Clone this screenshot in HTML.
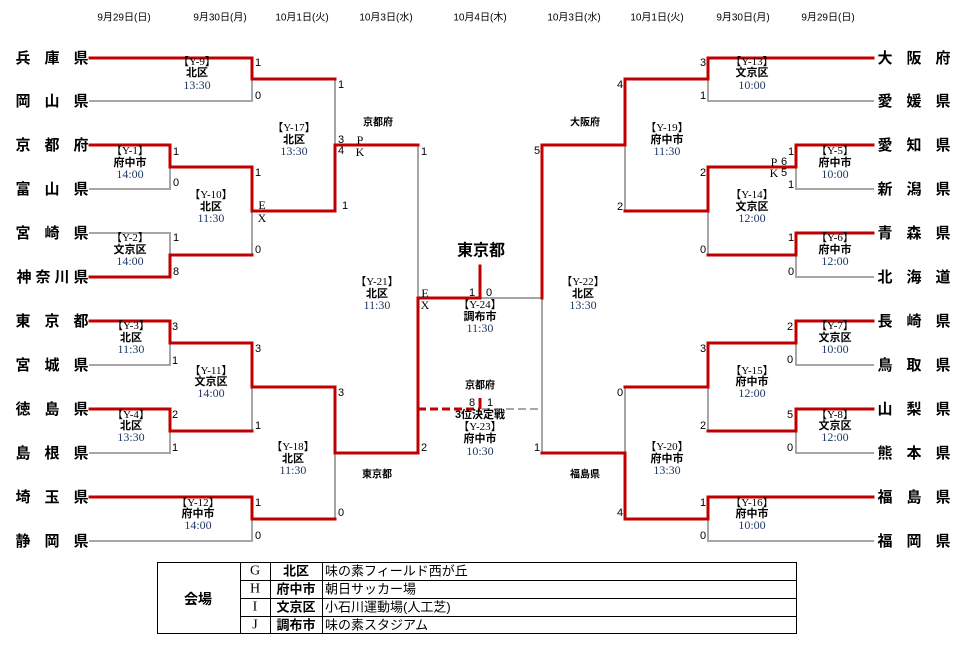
<!DOCTYPE html>
<html><head><meta charset="utf-8"><style>
html,body{margin:0;padding:0;background:#fff;}
svg{display:block;}
.d{font-family:"Liberation Sans","Noto Sans CJK JP",sans-serif;font-size:10px;fill:#000;}
.tm{font-family:"Liberation Sans","Noto Sans CJK JP",sans-serif;font-size:15px;font-weight:bold;fill:#000;}
.s{font-family:"Liberation Sans",sans-serif;font-size:11px;fill:#000;}
.ex{font-family:"Liberation Serif",serif;font-size:12px;fill:#000;}
.ml{font-family:"Liberation Serif","Noto Sans CJK JP",serif;font-size:11px;fill:#000;}
.mv{font-family:"Liberation Sans","Noto Sans CJK JP",sans-serif;font-size:11px;font-weight:bold;fill:#000;}
.mt{font-family:"Liberation Serif",serif;font-size:12px;fill:#1f3864;}
.lb{font-family:"Liberation Sans","Noto Sans CJK JP",sans-serif;font-size:10px;font-weight:bold;fill:#000;}
.tb{font-family:"Liberation Sans","Noto Sans CJK JP",sans-serif;font-size:13px;fill:#000;}
.tbs{font-family:"Liberation Serif",serif;font-size:14px;fill:#000;}
</style></head><body>
<svg width="966" height="645" viewBox="0 0 966 645" xmlns="http://www.w3.org/2000/svg">
<!-- dates -->
<g class="d" text-anchor="middle" dominant-baseline="central">
<text x="124" y="18">9月29日(日)</text>
<text x="220" y="18">9月30日(月)</text>
<text x="302" y="18">10月1日(火)</text>
<text x="386" y="18">10月3日(水)</text>
<text x="480" y="18">10月4日(木)</text>
<text x="574" y="18">10月3日(水)</text>
<text x="657" y="18">10月1日(火)</text>
<text x="743" y="18">9月30日(月)</text>
<text x="828" y="18">9月29日(日)</text>
</g>

<!-- gray lines -->
<g fill="none" stroke="#a6a6a6" stroke-width="2" stroke-linecap="square">
<path d="M90,101 H252 V79"/>
<path d="M90,189 H170 V167"/>
<path d="M90,233 H170 V255"/>
<path d="M252,211 V255"/>
<path d="M335,79 V145"/>
<path d="M418,145 V298"/>
<path d="M90,365 H170 V343"/>
<path d="M90,453 H170 V431"/>
<path d="M252,387 V431"/>
<path d="M90,541 H252 V519"/>
<path d="M335,453 V519"/>
<path d="M873,101 H708 V79"/>
<path d="M873,189 H796 V167"/>
<path d="M873,277 H796 V255"/>
<path d="M708,211 V255"/>
<path d="M625,145 V211"/>
<path d="M873,365 H796 V343"/>
<path d="M873,453 H796 V431"/>
<path d="M708,387 V431"/>
<path d="M625,387 V453"/>
<path d="M873,541 H708 V519"/>
<path d="M542,298 V453"/>
<path d="M480,298 H542"/>
</g>
<path d="M482,409 H542" fill="none" stroke="#a6a6a6" stroke-width="2" stroke-dasharray="8 4"/>
<path d="M418,409 H480" fill="none" stroke="#c00000" stroke-width="3" stroke-dasharray="8 4"/>
<path d="M480,398 V409" fill="none" stroke="#c00000" stroke-width="3"/>

<!-- red lines -->
<g fill="none" stroke="#c00000" stroke-width="3" stroke-linecap="square" stroke-linejoin="miter">
<path d="M90,58 H252 V79 H335"/>
<path d="M90,145 H170 V167 H252 V211 H335 V145 H418"/>
<path d="M90,277 H170 V255 H252"/>
<path d="M90,321 H170 V343 H252 V387 H335 V453 H418 V298 H480 V266"/>
<path d="M90,409 H170 V431 H252"/>
<path d="M90,497 H252 V519 H335"/>
<path d="M873,58 H708 V79 H625 V145 H542 V298"/>
<path d="M873,145 H796 V167 H708 V211 H625"/>
<path d="M873,233 H796 V255 H708"/>
<path d="M873,321 H796 V343 H708 V387 H625"/>
<path d="M873,409 H796 V431 H708"/>
<path d="M873,497 H708 V519 H625 V453 H542"/>
</g>

<!-- team names left -->
<g class="tm" text-anchor="middle" dominant-baseline="central">
<text y="58"><tspan x="23">兵</tspan><tspan x="52">庫</tspan><tspan x="81">県</tspan></text>
<text y="101"><tspan x="23">岡</tspan><tspan x="52">山</tspan><tspan x="81">県</tspan></text>
<text y="145"><tspan x="23">京</tspan><tspan x="52">都</tspan><tspan x="81">府</tspan></text>
<text y="189"><tspan x="23">富</tspan><tspan x="52">山</tspan><tspan x="81">県</tspan></text>
<text y="233"><tspan x="23">宮</tspan><tspan x="52">崎</tspan><tspan x="81">県</tspan></text>
<text y="277"><tspan x="24">神</tspan><tspan x="43">奈</tspan><tspan x="62">川</tspan><tspan x="81">県</tspan></text>
<text y="321"><tspan x="23">東</tspan><tspan x="52">京</tspan><tspan x="81">都</tspan></text>
<text y="365"><tspan x="23">宮</tspan><tspan x="52">城</tspan><tspan x="81">県</tspan></text>
<text y="409"><tspan x="23">徳</tspan><tspan x="52">島</tspan><tspan x="81">県</tspan></text>
<text y="453"><tspan x="23">島</tspan><tspan x="52">根</tspan><tspan x="81">県</tspan></text>
<text y="497"><tspan x="23">埼</tspan><tspan x="52">玉</tspan><tspan x="81">県</tspan></text>
<text y="541"><tspan x="23">静</tspan><tspan x="52">岡</tspan><tspan x="81">県</tspan></text>
<!-- right -->
<text y="58"><tspan x="885">大</tspan><tspan x="914">阪</tspan><tspan x="943">府</tspan></text>
<text y="101"><tspan x="885">愛</tspan><tspan x="914">媛</tspan><tspan x="943">県</tspan></text>
<text y="145"><tspan x="885">愛</tspan><tspan x="914">知</tspan><tspan x="943">県</tspan></text>
<text y="189"><tspan x="885">新</tspan><tspan x="914">潟</tspan><tspan x="943">県</tspan></text>
<text y="233"><tspan x="885">青</tspan><tspan x="914">森</tspan><tspan x="943">県</tspan></text>
<text y="277"><tspan x="885">北</tspan><tspan x="914">海</tspan><tspan x="943">道</tspan></text>
<text y="321"><tspan x="885">長</tspan><tspan x="914">崎</tspan><tspan x="943">県</tspan></text>
<text y="365"><tspan x="885">鳥</tspan><tspan x="914">取</tspan><tspan x="943">県</tspan></text>
<text y="409"><tspan x="885">山</tspan><tspan x="914">梨</tspan><tspan x="943">県</tspan></text>
<text y="453"><tspan x="885">熊</tspan><tspan x="914">本</tspan><tspan x="943">県</tspan></text>
<text y="497"><tspan x="885">福</tspan><tspan x="914">島</tspan><tspan x="943">県</tspan></text>
<text y="541"><tspan x="885">福</tspan><tspan x="914">岡</tspan><tspan x="943">県</tspan></text>
</g>

<!-- scores -->
<g class="s" text-anchor="middle" dominant-baseline="central">
<text x="258" y="63">1</text><text x="258" y="96">0</text>
<text x="341" y="85">1</text><text x="345" y="206">1</text>
<text x="341" y="140">3</text><text x="341" y="151">4</text>
<text x="176" y="152">1</text><text x="176" y="183">0</text>
<text x="176" y="238">1</text><text x="176" y="272">8</text>
<text x="258" y="173">1</text><text x="258" y="250">0</text>
<text x="175" y="327">3</text><text x="175" y="361">1</text>
<text x="175" y="415">2</text><text x="175" y="448">1</text>
<text x="258" y="349">3</text><text x="258" y="426">1</text>
<text x="258" y="503">1</text><text x="258" y="536">0</text>
<text x="341" y="393">3</text><text x="341" y="513">0</text>
<text x="424" y="152">1</text><text x="424" y="448">2</text>
<text x="472" y="293">1</text><text x="489" y="293">0</text>
<text x="472" y="403">8</text><text x="490" y="403">1</text>
<text x="703" y="63">3</text><text x="703" y="96">1</text>
<text x="620" y="85">4</text><text x="620" y="207">2</text>
<text x="537" y="151">5</text><text x="537" y="448">1</text>
<text x="703" y="173">2</text><text x="703" y="250">0</text>
<text x="791" y="152">1</text><text x="791" y="185">1</text>
<text x="784" y="162">6</text><text x="784" y="173">5</text>
<text x="791" y="238">1</text><text x="791" y="272">0</text>
<text x="790" y="327">2</text><text x="790" y="360">0</text>
<text x="790" y="415">5</text><text x="790" y="448">0</text>
<text x="703" y="349">3</text><text x="703" y="426">2</text>
<text x="620" y="393">0</text><text x="620" y="513">4</text>
<text x="703" y="503">1</text><text x="703" y="536">0</text>
</g>
<g class="ex" text-anchor="middle" dominant-baseline="central">
<text x="360" y="140">P</text><text x="360" y="152">K</text>
<text x="262" y="205">E</text><text x="262" y="218">X</text>
<text x="425" y="293">E</text><text x="425" y="305">X</text>
<text x="774" y="162">P</text><text x="774" y="173">K</text>
</g>

<!-- match labels -->
<g text-anchor="middle" dominant-baseline="central">
<!-- helper pattern: label, venue, time -->
<text class="ml" x="197" y="62">【Y-9】</text><text class="mv" x="197" y="73">北区</text><text class="mt" x="197" y="85">13:30</text>
<text class="ml" x="130" y="151">【Y-1】</text><text class="mv" x="130" y="163">府中市</text><text class="mt" x="130" y="174">14:00</text>
<text class="ml" x="130" y="238">【Y-2】</text><text class="mv" x="130" y="250">文京区</text><text class="mt" x="130" y="261">14:00</text>
<text class="ml" x="211" y="195">【Y-10】</text><text class="mv" x="211" y="207">北区</text><text class="mt" x="211" y="218">11:30</text>
<text class="ml" x="294" y="128">【Y-17】</text><text class="mv" x="294" y="140">北区</text><text class="mt" x="294" y="151">13:30</text>
<text class="ml" x="131" y="326">【Y-3】</text><text class="mv" x="131" y="338">北区</text><text class="mt" x="131" y="349">11:30</text>
<text class="ml" x="131" y="415">【Y-4】</text><text class="mv" x="131" y="426">北区</text><text class="mt" x="131" y="437">13:30</text>
<text class="ml" x="211" y="371">【Y-11】</text><text class="mv" x="211" y="382">文京区</text><text class="mt" x="211" y="393">14:00</text>
<text class="ml" x="293" y="447">【Y-18】</text><text class="mv" x="293" y="459">北区</text><text class="mt" x="293" y="470">11:30</text>
<text class="ml" x="198" y="503">【Y-12】</text><text class="mv" x="198" y="514">府中市</text><text class="mt" x="198" y="525">14:00</text>
<text class="ml" x="377" y="282">【Y-21】</text><text class="mv" x="377" y="294">北区</text><text class="mt" x="377" y="305">11:30</text>
<text class="ml" x="480" y="305">【Y-24】</text><text class="mv" x="480" y="317">調布市</text><text class="mt" x="480" y="328">11:30</text>
<text class="mv" x="480" y="415">3位決定戦</text><text class="ml" x="480" y="427">【Y-23】</text><text class="mv" x="480" y="439">府中市</text><text class="mt" x="480" y="451">10:30</text>
<text class="ml" x="583" y="282">【Y-22】</text><text class="mv" x="583" y="294">北区</text><text class="mt" x="583" y="305">13:30</text>
<text class="ml" x="752" y="62">【Y-13】</text><text class="mv" x="752" y="73">文京区</text><text class="mt" x="752" y="85">10:00</text>
<text class="ml" x="667" y="128">【Y-19】</text><text class="mv" x="667" y="140">府中市</text><text class="mt" x="667" y="151">11:30</text>
<text class="ml" x="752" y="195">【Y-14】</text><text class="mv" x="752" y="207">文京区</text><text class="mt" x="752" y="218">12:00</text>
<text class="ml" x="835" y="151">【Y-5】</text><text class="mv" x="835" y="163">府中市</text><text class="mt" x="835" y="174">10:00</text>
<text class="ml" x="835" y="238">【Y-6】</text><text class="mv" x="835" y="250">府中市</text><text class="mt" x="835" y="261">12:00</text>
<text class="ml" x="835" y="326">【Y-7】</text><text class="mv" x="835" y="338">文京区</text><text class="mt" x="835" y="349">10:00</text>
<text class="ml" x="835" y="415">【Y-8】</text><text class="mv" x="835" y="426">文京区</text><text class="mt" x="835" y="437">12:00</text>
<text class="ml" x="752" y="371">【Y-15】</text><text class="mv" x="752" y="382">府中市</text><text class="mt" x="752" y="393">12:00</text>
<text class="ml" x="667" y="447">【Y-20】</text><text class="mv" x="667" y="459">府中市</text><text class="mt" x="667" y="470">13:30</text>
<text class="ml" x="752" y="503">【Y-16】</text><text class="mv" x="752" y="514">府中市</text><text class="mt" x="752" y="525">10:00</text>
</g>

<!-- side labels -->
<g class="lb" text-anchor="middle" dominant-baseline="central">
<text x="378" y="123">京都府</text>
<text x="377" y="475">東京都</text>
<text x="585" y="123">大阪府</text>
<text x="585" y="475">福島県</text>
<text x="480" y="386">京都府</text>
</g>
<text x="481" y="251" text-anchor="middle" dominant-baseline="central" font-family="Liberation Sans,Noto Sans CJK JP,sans-serif" font-size="16" font-weight="bold">東京都</text>

<!-- table -->
<g fill="none" stroke="#000" stroke-width="1">
<rect x="157.5" y="562.5" width="639" height="71"/>
<line x1="240.5" y1="562" x2="240.5" y2="634"/>
<line x1="270.5" y1="562" x2="270.5" y2="634"/>
<line x1="322.5" y1="562" x2="322.5" y2="634"/>
<line x1="240" y1="580.5" x2="797" y2="580.5"/>
<line x1="240" y1="598.5" x2="797" y2="598.5"/>
<line x1="240" y1="616.5" x2="797" y2="616.5"/>
</g>
<text x="198" y="599" text-anchor="middle" dominant-baseline="central" font-family="Liberation Sans,Noto Sans CJK JP,sans-serif" font-size="14" font-weight="bold">会場</text>
<g class="tbs" text-anchor="middle" dominant-baseline="central">
<text x="255" y="571">G</text><text x="255" y="589">H</text><text x="255" y="607">I</text><text x="255" y="625">J</text>
</g>
<g class="tb" text-anchor="middle" dominant-baseline="central" font-weight="bold">
<text x="296" y="571">北区</text><text x="296" y="589">府中市</text><text x="296" y="607">文京区</text><text x="296" y="625">調布市</text>
</g>
<g class="tb" dominant-baseline="central">
<text x="325" y="571">味の素フィールド西が丘</text>
<text x="325" y="589">朝日サッカー場</text>
<text x="325" y="607">小石川運動場(人工芝)</text>
<text x="325" y="625">味の素スタジアム</text>
</g>
</svg>
</body></html>
